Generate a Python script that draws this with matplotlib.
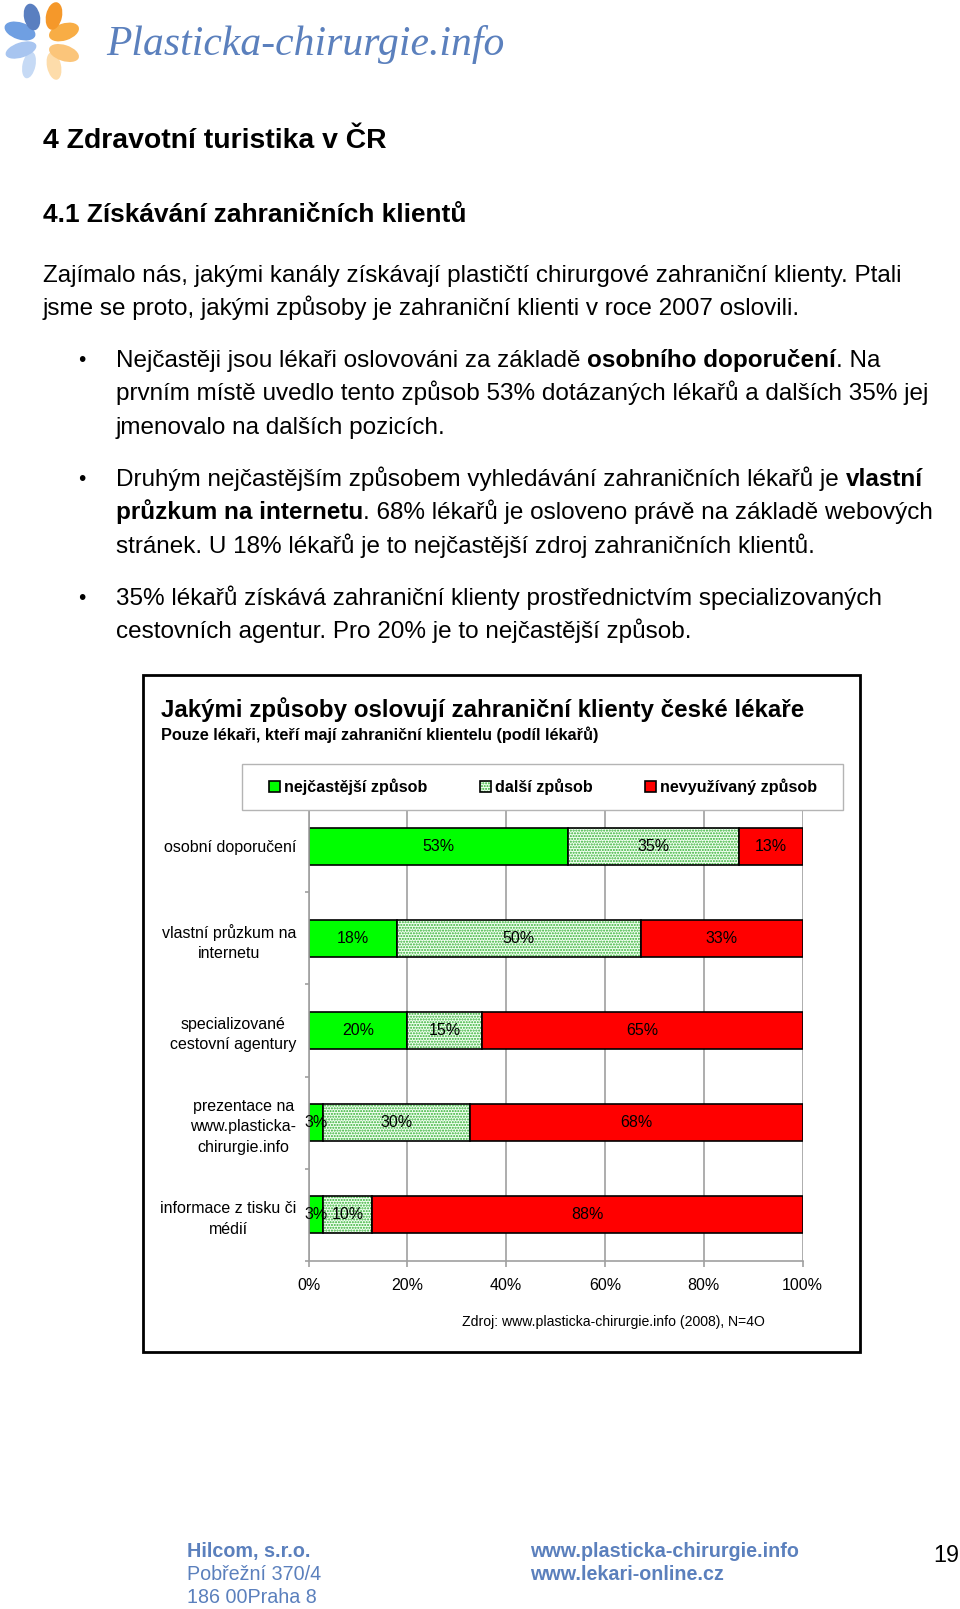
import matplotlib
matplotlib.use('Agg')
import matplotlib.pyplot as plt
from matplotlib.patches import Rectangle, Ellipse
import numpy as np

plt.rcParams['font.family'] = ['Liberation Sans', 'DejaVu Sans']
plt.rcParams['hatch.color'] = '#2fae2f'
plt.rcParams['hatch.linewidth'] = 1.0

W, H = 960, 1609

# chart data (share of doctors, %)
categories = ['osobní doporučení', 'vlastní průzkum na\ninternetu',
              'specializované\ncestovní agentury',
              'prezentace na\nwww.plasticka-\nchirurgie.info',
              'informace z tisku či\nmédií']
nejcastejsi = [53, 18, 20, 3, 3]
dalsi = [35, 50, 15, 30, 10]
nevyuzivany = [13, 33, 65, 68, 88]
series_names = ['nejčastější způsob', 'další způsob', 'nevyužívaný způsob']
series_colors = ['#00ff00', '#f2fff2', '#ff0000']
series_hatch = [None, '......', None]
x_ticks = [0, 20, 40, 60, 80, 100]

# page text
heading1 = '4 Zdravotní turistika v ČR'
heading2 = '4.1 Získávání zahraničních klientů'
intro = ['Zajímalo nás, jakými kanály získávají plastičtí chirurgové zahraniční klienty. Ptali',
         'jsme se proto, jakými způsoby je zahraniční klienti v roce 2007 oslovili.']
bullets = [
    [[('Nejčastěji jsou lékaři oslovováni za základě ', False), ('osobního doporučení', True), ('. Na', False)],
     [('prvním místě uvedlo tento způsob 53% dotázaných lékařů a dalších 35% jej', False)],
     [('jmenovalo na dalších pozicích.', False)]],
    [[('Druhým nejčastějším způsobem vyhledávání zahraničních lékařů je ', False), ('vlastní', True)],
     [('průzkum na internetu', True), ('. 68% lékařů je osloveno právě na základě webových', False)],
     [('stránek. U 18% lékařů je to nejčastější zdroj zahraničních klientů.', False)]],
    [[('35% lékařů získává zahraniční klienty prostřednictvím specializovaných', False)],
     [('cestovních agentur. Pro 20% je to nejčastější způsob.', False)]],
]
chart_title = 'Jakými způsoby oslovují zahraniční klienty české lékaře'
chart_subtitle = 'Pouze lékaři, kteří mají zahraniční klientelu (podíl lékařů)'
source_note = 'Zdroj: www.plasticka-chirurgie.info (2008), N=4O'
footer_left = ['Hilcom, s.r.o.', 'Pobřežní 370/4', '186 00Praha 8']
footer_mid = ['www.plasticka-chirurgie.info', 'www.lekari-online.cz']
page_number = '19'

BLUE = '#5b80bd'


def fx(x):
    return x / W


def fy(y):
    return 1 - y / H


fig = plt.figure(figsize=(9.6, 16.09), dpi=100)
renderer = fig.canvas.get_renderer()


def text_width(s, **kw):
    t = fig.text(0, 0, 'x' + s + 'x', **kw)
    r = fig.text(0, 0, 'xx', **kw)
    w = t.get_window_extent(renderer).width - r.get_window_extent(renderer).width
    t.remove()
    r.remove()
    return w


def rich_line(x, y, parts, size):
    for s, bold in parts:
        kw = dict(fontsize=size, fontweight='bold' if bold else 'normal')
        fig.text(fx(x), fy(y), s, va='baseline', **kw)
        x += text_width(s, **kw)


# --- logo ---
logo = fig.add_axes([0, fy(85), 90 / W, 85 / H])
logo.set_xlim(0, 90)
logo.set_ylim(85, 0)
logo.axis('off')
# (x, y, width, height, angle, colour) in pixels
petals = [(29, 65, 13, 27, 12, '#c6daf5'), (54, 66, 14, 28, -12, '#fddcaa'),
          (21, 50, 32, 15, -18, '#a8c5f0'), (64, 53, 31, 16, 18, '#fbc57a'),
          (20, 31, 32, 17, 18, '#6f9fe2'), (64, 32, 31, 17, -18, '#f8ad45'),
          (32, 17, 16, 27, -12, '#5a7fc0'), (54, 16, 16, 28, 12, '#f5982a')]
for cx, cy, w, h, a, c in petals:
    logo.add_patch(Ellipse((cx, cy), w, h, angle=a, color=c, lw=0))
fig.text(fx(106), fy(45), 'Plasticka-chirurgie.info', family='Liberation Serif',
         style='italic', fontsize=30, color=BLUE, va='center')

# --- headings and body ---
fig.text(fx(43), fy(148), heading1, fontsize=20.4, fontweight='bold', va='baseline')
fig.text(fx(43), fy(222), heading2, fontsize=18.9, fontweight='bold', va='baseline')

BODY = 17.5
STEP = 33.3
for i, line in enumerate(intro):
    fig.text(fx(43), fy(282 + i * STEP), line, fontsize=BODY, va='baseline')

for start, item in zip([367, 486, 605], bullets):
    fig.text(fx(78), fy(start - 1), '•', fontsize=15, va='baseline')
    for i, parts in enumerate(item):
        rich_line(116, start + i * STEP, parts, BODY)

# --- chart frame ---
fig.add_artist(Rectangle((fx(142.5), fy(1352)), (859.5 - 142.5) / W, (1352 - 675) / H,
                         transform=fig.transFigure, fill=False, edgecolor='black', lw=2))
fig.text(fx(161), fy(717), chart_title, fontsize=17.4, fontweight='bold', va='baseline')
fig.text(fx(161), fy(740), chart_subtitle, fontsize=11.7, fontweight='bold', va='baseline')
fig.text(fx(462.5), fy(1322), source_note, fontsize=10.1, va='center')

# --- stacked 100% bar chart ---
ax = fig.add_axes([fx(308.7), fy(1261), (802.5 - 308.7) / W, (1261 - 800) / H])
y = np.arange(len(categories))
series = [np.array(nejcastejsi), np.array(dalsi), np.array(nevyuzivany)]
total = sum(series)
left = np.zeros(len(categories))
handles = []
for vals, name, color, hatch in zip(series, series_names, series_colors, series_hatch):
    pct = vals / total * 100
    fill = ax.barh(y, pct, left=left, height=0.4, color=color, hatch=hatch, lw=0)
    edge = ax.barh(y, pct, left=left, height=0.4, fill=False, edgecolor='black', lw=1.2)
    handles.append((fill.patches[0], edge.patches[0]))
    for yi, l, p, v in zip(y, left, pct, vals):
        ax.text(l + p / 2, yi, f'{v}%', ha='center', va='center', fontsize=11.5, color='black')
    left = left + pct

ax.set_xlim(0, 100)
ax.set_xticks(x_ticks, labels=[f'{t}%' for t in x_ticks])
ax.set_yticks(np.arange(-0.5, len(categories)), labels=[])
ax.set_yticks(y, labels=categories, minor=True)
ax.set_ylim(len(categories) - 0.5, -0.5)
ax.tick_params(axis='x', length=4, width=1.2, color='#a0a0a0', pad=8, labelsize=11.5)
ax.tick_params(axis='y', which='major', length=3, width=1.2, color='#a0a0a0')
ax.tick_params(axis='y', which='minor', length=0, pad=9, labelsize=11.5)
for lab in ax.get_yticklabels(minor=True):
    lab.set_multialignment('center')
    lab.set_linespacing(1.45)
ax.xaxis.grid(True, color='#a0a0a0', lw=1.2)
ax.set_axisbelow(True)
for side in ['top', 'right']:
    ax.spines[side].set_visible(False)
for side in ['left', 'bottom']:
    ax.spines[side].set_color('#a0a0a0')
    ax.spines[side].set_linewidth(1.2)

# legend box
fig.add_artist(Rectangle((fx(242), fy(810)), (843 - 242) / W, 46 / H, transform=fig.transFigure,
                         facecolor='white', edgecolor='#b4b4b4', lw=1, zorder=3))
fig.legend(handles, series_names, loc='center', bbox_to_anchor=(fx(269), fy(797), 548 / W, 20 / H),
           mode='expand', ncol=3, frameon=False, prop={'size': 11.6, 'weight': 'bold'},
           handlelength=0.68, handleheight=0.68, handletextpad=0.25, borderpad=0,
           borderaxespad=0)

# --- footer ---
for i, line in enumerate(footer_left):
    fig.text(fx(187), fy(1557 + i * 23), line, fontsize=14.2, color=BLUE,
             fontweight='bold' if i == 0 else 'normal', va='baseline')
for i, line in enumerate(footer_mid):
    fig.text(fx(530), fy(1557 + i * 23), line, fontsize=14.2, color=BLUE,
             fontweight='bold', va='baseline')
fig.text(fx(933), fy(1562), page_number, fontsize=16.8, va='baseline')

fig.savefig('out.png', dpi=100)
